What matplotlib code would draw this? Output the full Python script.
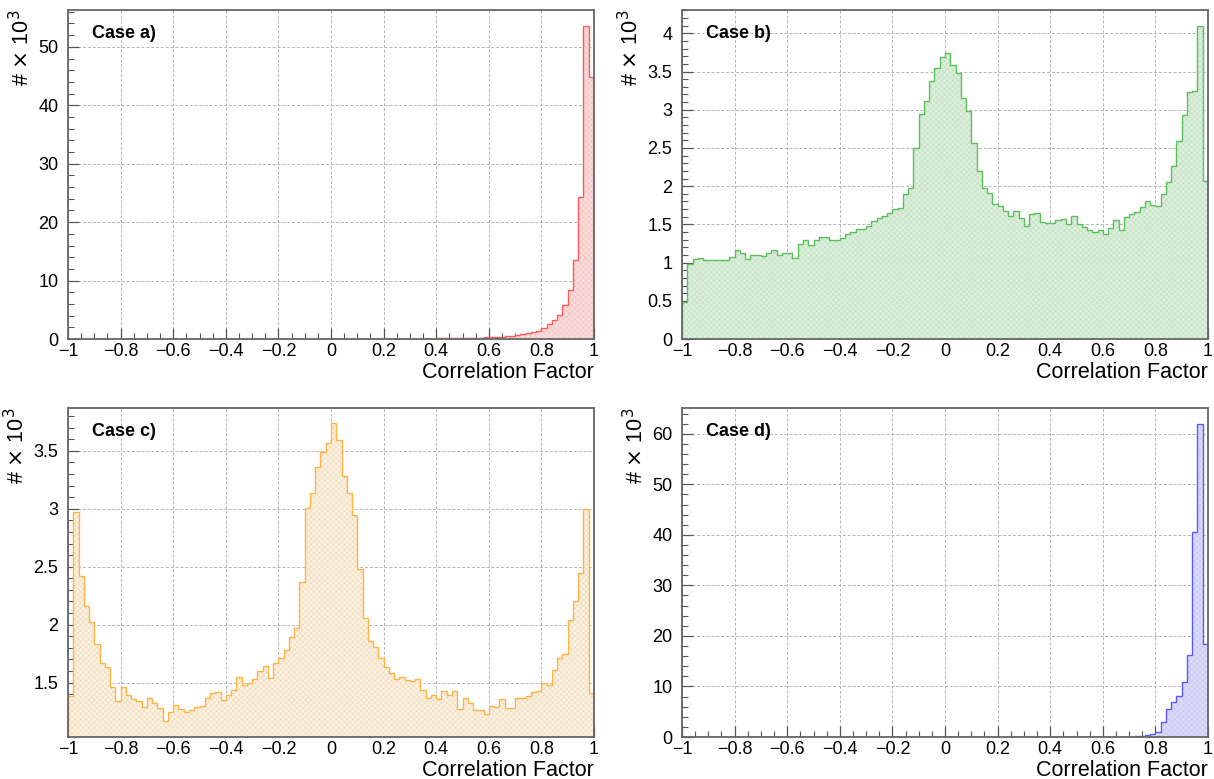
import matplotlib
matplotlib.use("Agg")
import matplotlib.pyplot as plt
import numpy as np
from matplotlib.ticker import MultipleLocator

plt.rcParams["font.family"] = ["Liberation Sans", "DejaVu Sans"]
plt.rcParams["hatch.linewidth"] = 0.4

# 100 bins between -1 and 1, counts in units of 10^3
BIN_EDGES = np.linspace(-1, 1, 101)

case_a = [0.0] * 61 + [
    0.02, 0.03, 0.03, 0.04, 0.05, 0.05, 0.06, 0.07, 0.08,
    0.10, 0.11, 0.12, 0.14, 0.15, 0.17, 0.19, 0.22, 0.25, 0.28,
    0.32, 0.36, 0.41, 0.47, 0.55, 0.70, 0.85, 1.00, 1.20, 1.45,
    1.9, 2.6, 3.2, 4.1, 5.8, 8.4, 13.5, 24.3, 53.6, 44.8,
]

case_b = [
    0.48, 0.98, 1.05, 1.06, 1.03, 1.03, 1.03, 1.03, 1.03, 1.07,
    1.16, 1.12, 1.05, 1.10, 1.10, 1.09, 1.12, 1.16, 1.10, 1.13,
    1.12, 1.06, 1.24, 1.29, 1.23, 1.29, 1.34, 1.33, 1.30, 1.29,
    1.32, 1.37, 1.40, 1.44, 1.44, 1.48, 1.55, 1.58, 1.61, 1.65,
    1.70, 1.72, 1.90, 1.98, 2.50, 2.94, 3.11, 3.37, 3.55, 3.69,
    3.74, 3.58, 3.48, 3.16, 2.98, 2.57, 2.20, 1.98, 1.91, 1.77,
    1.74, 1.68, 1.61, 1.67, 1.58, 1.48, 1.63, 1.65, 1.53, 1.52,
    1.52, 1.56, 1.57, 1.50, 1.61, 1.51, 1.46, 1.42, 1.40, 1.43,
    1.38, 1.45, 1.56, 1.43, 1.59, 1.64, 1.66, 1.73, 1.80, 1.75,
    1.74, 1.90, 2.05, 2.26, 2.59, 2.93, 3.23, 3.25, 4.10, 2.07,
]

case_c = [
    1.38, 2.97, 2.42, 2.16, 2.02, 1.83, 1.67, 1.63, 1.46, 1.34,
    1.46, 1.39, 1.36, 1.34, 1.29, 1.37, 1.32, 1.28, 1.17, 1.25,
    1.31, 1.27, 1.25, 1.26, 1.29, 1.30, 1.37, 1.41, 1.42, 1.35,
    1.39, 1.44, 1.55, 1.48, 1.50, 1.53, 1.60, 1.64, 1.54, 1.67,
    1.71, 1.78, 1.89, 1.97, 2.37, 3.01, 3.14, 3.36, 3.49, 3.57,
    3.74, 3.59, 3.28, 3.14, 2.95, 2.48, 2.06, 1.86, 1.81, 1.71,
    1.63, 1.58, 1.53, 1.55, 1.52, 1.51, 1.53, 1.44, 1.37, 1.39,
    1.36, 1.43, 1.39, 1.43, 1.27, 1.37, 1.32, 1.26, 1.26, 1.23,
    1.30, 1.29, 1.36, 1.28, 1.28, 1.37, 1.37, 1.38, 1.42, 1.43,
    1.50, 1.48, 1.61, 1.71, 1.75, 2.04, 2.20, 2.45, 3.00, 1.41,
]

case_d = [0.0] * 83 + [
    0.03, 0.05, 0.08, 0.12, 0.20, 0.35, 0.60,
    1.0, 2.9, 5.6, 7.0, 8.1, 10.8, 16.3, 40.6, 62.0, 18.5,
]

PANELS = [
    ("Case a)", case_a, "#ff5a5a", "#ffd9d9", (0, 56.3), 10, 2),
    ("Case b)", case_b, "#5cbf5c", "#d9f0d9", (0, 4.305), 0.5, 0.1),
    ("Case c)", case_c, "#ffb347", "#fff0da", (1.03, 3.87), 0.5, 0.1),
    ("Case d)", case_d, "#5a5aff", "#dadaff", (0, 65.1), 10, 2),
]

# axes boxes in pixels: left, top, right, bottom
BOXES = [(68, 10, 594, 339), (682, 10, 1208, 339), (68, 408, 594, 737), (682, 408, 1208, 737)]

W, H = 1214, 779


def x_label(v, pos):
    v = round(v, 6)
    if v == 0:
        return "0"
    return ("\u2212" if v < 0 else "") + f"{abs(v):g}"


fig = plt.figure(figsize=(W / 100, H / 100), dpi=100)

for (title, counts, line_c, fill_c, ylim, major, minor), (l, t, r, b) in zip(PANELS, BOXES):
    ax = fig.add_axes([l / W, 1 - b / H, (r - l) / W, (b - t) / H])
    ax.stairs(counts, BIN_EDGES, fill=True, facecolor=fill_c, edgecolor="none", zorder=2)
    ax.stairs(counts, BIN_EDGES, fill=True, facecolor="none", edgecolor=(0.45, 0.45, 0.45, 0.18),
              hatch="xxxxxx", linewidth=0, zorder=2.1)
    ax.stairs(counts, BIN_EDGES, baseline=0, color=line_c, linewidth=1.0, zorder=3)

    ax.set_xlim(-1, 1)
    ax.set_ylim(*ylim)
    ax.xaxis.set_major_locator(MultipleLocator(0.2))
    ax.xaxis.set_minor_locator(MultipleLocator(0.05))
    ax.yaxis.set_major_locator(MultipleLocator(major))
    ax.yaxis.set_minor_locator(MultipleLocator(minor))
    ax.xaxis.set_major_formatter(x_label)
    ax.yaxis.set_major_formatter(lambda v, p: f"{round(v, 6):g}")
    ax.tick_params(which="both", direction="in", top=False, right=False, color="#555555",
                   labelsize=13)
    ax.tick_params(axis="x", pad=3)
    ax.tick_params(axis="y", pad=7)
    ax.tick_params(which="major", length=8, width=0.9)
    ax.tick_params(which="minor", length=4.5, width=0.8)
    ax.grid(True, which="major", color="#b5b5b5", linestyle=(0, (3, 2)), linewidth=0.7, zorder=1)
    ax.set_axisbelow(True)
    for sp in ax.spines.values():
        sp.set_color("#666666")
        sp.set_linewidth(1.3)
        sp.set_zorder(4)

    ax.set_xlabel("Correlation Factor", loc="right", fontsize=15.5, labelpad=1)
    ax.set_ylabel(r"# $\times$ 10$^3$", loc="top", fontsize=15.5, labelpad=3)
    ax.text(0.046, 0.93, title, transform=ax.transAxes, fontsize=13, fontweight="bold",
            ha="left", va="center", zorder=5)

fig.savefig("out.png", dpi=100)
